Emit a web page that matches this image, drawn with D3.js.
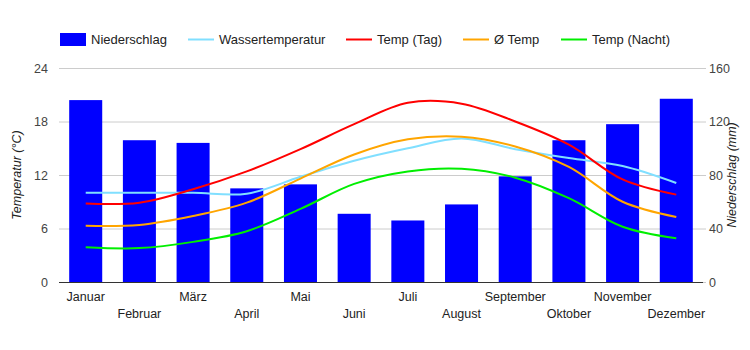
<!DOCTYPE html>
<html>
<head>
<meta charset="utf-8">
<script src="https://cdn.jsdelivr.net/npm/d3@7"></script>
<style>
  body { margin: 0; background: #fff; }
  text { font-family: Arial, "Liberation Sans", sans-serif; }
</style>
</head>
<body>
<svg id="chart" width="750" height="350"></svg>
<script>
const months = ['Januar', 'Februar', 'März', 'April', 'Mai', 'Juni', 'Juli',
  'August', 'September', 'Oktober', 'November', 'Dezember']
const rain = [136, 106, 104, 70, 73, 51, 46, 58, 79, 106, 118, 137]
const water = [10.0, 10.0, 10.0, 9.9, 11.8, 13.6, 15.0, 16.1, 14.9, 13.9, 13.0, 11.1]
const tempDay = [8.8, 8.9, 10.4, 12.4, 14.9, 17.7, 20.1, 20.0, 18.0, 15.4, 11.5, 9.8]
const tempAvg = [6.3, 6.4, 7.4, 8.9, 11.6, 14.3, 16.0, 16.3, 15.2, 12.9, 9.0, 7.3]
const tempNight = [3.9, 3.8, 4.5, 5.7, 8.2, 11.0, 12.4, 12.7, 11.7, 9.4, 6.2, 4.9]
const tempTicks = [0, 6, 12, 18, 24]
const rainTicks = [0, 40, 80, 120, 160]

const series = [
  {name: 'Wassertemperatur', values: water, color: '#80dfff'},
  {name: 'Temp (Tag)', values: tempDay, color: '#ff0000'},
  {name: 'Ø Temp', values: tempAvg, color: '#ffa500'},
  {name: 'Temp (Nacht)', values: tempNight, color: '#00ee00'}
]

const svg = d3.select('#chart')
const plotLeft = 59, plotRight = 703, plotTop = 68, plotBottom = 282

const x = d3.scaleBand().domain(months).range([plotLeft, plotRight]).paddingInner(0.385).paddingOuter(0.19)
const yT = d3.scaleLinear().domain([0, 24]).range([plotBottom, plotTop])
const yR = d3.scaleLinear().domain([0, 160]).range([plotBottom, plotTop])

// gridlines
svg.append('g')
  .selectAll('line')
  .data(tempTicks.slice(1))
  .join('line')
  .attr('x1', plotLeft).attr('x2', plotRight)
  .attr('y1', (d) => yT(d) + 0.5).attr('y2', (d) => yT(d) + 0.5)
  .attr('stroke', '#cccccc')

// left axis labels
svg.append('g')
  .selectAll('text')
  .data(tempTicks)
  .join('text')
  .attr('x', 48).attr('y', (d) => yT(d) + 4.5)
  .attr('text-anchor', 'end')
  .attr('font-size', 12.5).attr('fill', '#444')
  .text((d) => d)

// right axis ticks + labels
let rg = svg.append('g')
rg.selectAll('line')
  .data(rainTicks)
  .join('line')
  .attr('x1', plotRight).attr('x2', plotRight + 3)
  .attr('y1', (d) => yR(d) + 0.5).attr('y2', (d) => yR(d) + 0.5)
  .attr('stroke', '#cccccc')
rg.selectAll('text')
  .data(rainTicks)
  .join('text')
  .attr('x', plotRight + 6).attr('y', (d) => yR(d) + 4.5)
  .attr('font-size', 12.5).attr('fill', '#444')
  .text((d) => d)

// bars
svg.append('g')
  .selectAll('rect')
  .data(rain)
  .join('rect')
  .attr('x', (d, i) => x(months[i]))
  .attr('width', x.bandwidth())
  .attr('y', (d) => yR(d))
  .attr('height', (d) => yR(0) - yR(d))
  .attr('fill', '#0000ff')

// baseline
svg.append('line')
  .attr('x1', plotLeft).attr('x2', plotRight)
  .attr('y1', plotBottom + 0.5).attr('y2', plotBottom + 0.5)
  .attr('stroke', '#333')

// lines
let line = d3.line()
  .curve(d3.curveCatmullRom.alpha(0.5))
  .x((d, i) => x(months[i]) + x.bandwidth() / 2)
  .y((d) => yT(d))

svg.append('g')
  .selectAll('path')
  .data(series)
  .join('path')
  .attr('d', (s) => line(s.values))
  .attr('fill', 'none')
  .attr('stroke', (s) => s.color)
  .attr('stroke-width', 2)

// month labels, alternating rows
svg.append('g')
  .selectAll('text')
  .data(months)
  .join('text')
  .attr('x', (d) => x(d) + x.bandwidth() / 2)
  .attr('y', (d, i) => i % 2 ? 317.5 : 300.5)
  .attr('text-anchor', 'middle')
  .attr('font-size', 12.5).attr('fill', '#222')
  .text((d) => d)

// axis titles
svg.append('text')
  .attr('transform', 'translate(21,175) rotate(-90)')
  .attr('text-anchor', 'middle')
  .attr('font-size', 12.5).attr('font-style', 'italic').attr('fill', '#222')
  .text('Temperatur (°C)')
svg.append('text')
  .attr('transform', 'translate(736,175) rotate(-90)')
  .attr('text-anchor', 'middle')
  .attr('font-size', 12.5).attr('font-style', 'italic').attr('fill', '#222')
  .text('Niederschlag (mm)')

// legend
let legend = [
  {name: 'Niederschlag', color: '#0000ff', bar: true, x: 60},
  {name: series[0].name, color: series[0].color, x: 188},
  {name: series[1].name, color: series[1].color, x: 346},
  {name: series[2].name, color: series[2].color, x: 463},
  {name: series[3].name, color: series[3].color, x: 561}
]
let lg = svg.append('g')
legend.forEach((l) => {
  if (l.bar) {
    lg.append('rect').attr('x', l.x).attr('y', 33).attr('width', 26).attr('height', 13).attr('fill', l.color)
  } else {
    lg.append('line').attr('x1', l.x).attr('x2', l.x + 26)
      .attr('y1', 39.5).attr('y2', 39.5)
      .attr('stroke', l.color).attr('stroke-width', 2)
  }
  lg.append('text')
    .attr('x', l.x + 31).attr('y', 44)
    .attr('font-size', 13).attr('fill', '#222')
    .text(l.name)
})
</script>
</body>
</html>
